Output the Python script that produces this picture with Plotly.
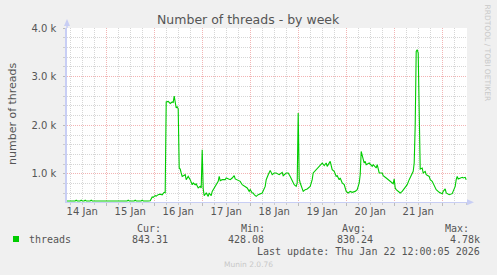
import plotly.graph_objects as go
from datetime import datetime, timedelta

# ---------------- data ----------------
# hours since 2026-01-14 00:00
hours = [4.0, 8.5, 9, 9.5, 11, 11.5, 12, 13, 13.5, 14, 16, 16.5, 17, 22.5, 23, 23.5,
         31, 31.5, 32, 34.5, 35, 35.5, 38, 38.5, 39, 41.5, 42, 42.5, 45, 46,
         47, 47.5, 48, 48.5, 49, 50, 51, 52, 52.5, 53, 53.5,
         54, 55, 56, 57, 57.5, 58, 58.5, 59, 59.5, 60,
         60.5, 61, 61.5, 62, 63.5, 64, 65, 66, 67, 67.5, 68.5, 69, 70, 71, 71.5,
         72, 72.5, 73, 74, 75, 75.5, 76.5, 77, 78, 79, 80, 80.5, 81, 82, 83.5,
         84, 85, 86, 87, 88, 88.5, 89.5, 91, 92, 93.5, 94.5, 95.5, 96, 97, 97.5,
         98, 99, 100, 101, 102, 103.5, 104, 105, 106, 107, 108, 109, 110.5, 112,
         112.5, 114, 115, 116, 117, 118, 119, 119.5, 120, 120.5, 121, 122, 122.5,
         123.5, 124.5, 126, 127, 127.5, 129, 130, 131, 132, 133, 134, 134.5, 135.5,
         136, 137, 138, 139, 139.5, 140.5, 141, 142, 143, 144, 145, 146, 147, 148.5,
         149.5, 150.5, 151, 151.5, 152, 153, 153.5, 154, 155.5, 157, 157.5, 159,
         159.5, 160.5, 162, 162.5, 164, 166, 167, 167.5, 168, 168.5, 169, 170, 171,
         172, 173.5, 174.5, 175.5, 177, 177.5, 178, 178.5, 179, 179.5, 180, 180.5,
         181, 182, 182.5, 183.5, 184, 185.5, 186, 187, 188, 189, 190.5, 192, 192.5,
         193.5, 194, 195.5, 197, 197.5, 198.5, 199, 199.5, 200, 201, 202, 202.5,
         203.5, 204]
threads = [445, 445, 462, 445, 445, 462, 445, 445, 462, 445, 445, 462, 445, 445, 460, 445,
           445, 460, 445, 445, 462, 445, 445, 462, 445, 445, 462, 445, 445, 450,
           527, 520, 540, 553, 545, 575, 585, 570, 600, 623, 615,
           2480, 2490, 2450, 2480, 2470, 2600, 2450, 2360, 2380, 2340,
           1123, 1100, 1020, 950, 985, 883, 950, 883, 780, 815, 780, 795, 712, 745, 712,
           1500, 700, 553, 609, 540, 609, 553, 642, 712, 780, 848, 950, 862, 883, 883,
           917, 897, 883, 917, 965, 897, 883, 848, 780, 745, 712, 642, 678, 609, 609,
           575, 540, 575, 590, 609, 745, 883, 985, 1074, 985, 1020, 1020, 985, 1033,
           965, 1020, 1020, 950, 848, 780, 745, 815, 2253, 900, 815, 712, 642,
           678, 692, 745, 883, 1020, 1088, 1156, 1191, 1225, 1170, 1225, 1156, 1238,
           1259, 1088, 1054, 950, 965, 883, 917, 815, 780, 642, 609, 642, 623, 642,
           678, 815, 985, 1464, 1361, 1225, 1259, 1191, 1225, 1156, 1191, 1123,
           1191, 1020, 1020, 965, 917, 848, 815, 800, 897, 712, 678, 642, 609,
           642, 712, 780, 883, 1020, 1054, 1225, 2000, 3520, 3554, 3486, 2200,
           1100, 1123, 1020, 1054, 985, 950, 883, 848, 745, 678, 623, 595, 642,
           692, 609, 575, 595, 642, 745, 883, 950, 897, 917, 931, 917,
           931, 880]
day_labels = ["14 Jan", "15 Jan", "16 Jan", "17 Jan", "18 Jan", "19 Jan", "20 Jan", "21 Jan"]
y_ticks = [1000, 2000, 3000, 4000]
y_tick_text = ["1.0 k", "2.0 k", "3.0 k", "4.0 k"]
series_name = "threads"
stat_names = ["Cur:", "Min:", "Avg:", "Max:"]
stat_values = ["843.31", "428.08", "830.24", "4.78k"]
last_update = "Last update: Thu Jan 22 12:00:05 2026"

origin = datetime(2026, 1, 14)
times = [origin + timedelta(hours=h) for h in hours]
x_range = [origin + timedelta(hours=4.4), origin + timedelta(hours=204.4)]
midnights = [origin + timedelta(days=d) for d in range(0, 9)]
noons = [origin + timedelta(days=d, hours=12) for d in range(len(day_labels))]

# ---------------- layout helpers ----------------
W, H = 497, 275
L, R, T, B = 67, 30, 28, 73
PW, PH = W - L - R, H - T - B


def px(x):
    return (x - L) / PW


def py(y):
    return (T + PH - y) / PH


GREEN = "#00CC00"
TXT = "#555555"
AXIS = "#C8CEF4"
MGRID = "#F2B4B4"
GRID = "#D6D6D6"
DASH = "1px,1px"

fig = go.Figure()
fig.add_trace(go.Scatter(x=times, y=threads, mode="lines",
                         line=dict(color=GREEN, width=1.1), showlegend=False,
                         hoverinfo="skip"))
fig.add_trace(go.Scatter(x=[noons[0]], y=[None], xaxis="x2", showlegend=False,
                         hoverinfo="skip"))

fig.update_layout(
    width=W, height=H, margin=dict(l=L, r=R, t=T, b=B),
    paper_bgcolor="#F0F0F0", plot_bgcolor="white",
    font=dict(family="DejaVu Sans", color=TXT, size=10),
    xaxis=dict(type="date", range=x_range, tickvals=midnights, showticklabels=False,
               showgrid=True, gridcolor=MGRID, griddash=DASH, gridwidth=1,
               ticks="outside", ticklen=3, tickcolor="#BBBBBB",
               minor=dict(dtick=6 * 3600 * 1000, tick0=origin, showgrid=True,
                          gridcolor=GRID, griddash=DASH, ticks="outside",
                          ticklen=2, tickcolor="#CCCCCC"),
               showline=True, linecolor=AXIS, linewidth=1, zeroline=False,
               fixedrange=True),
    xaxis2=dict(type="date", range=x_range, overlaying="x", side="bottom", anchor="y",
                tickvals=noons, ticktext=day_labels, showgrid=False, ticks="",
                ticklabelstandoff=2,
                tickfont=dict(size=10, color=TXT), zeroline=False, showline=False),
    yaxis=dict(range=[424, 4000], tickvals=y_ticks, ticktext=y_tick_text,
               showgrid=True, gridcolor=MGRID, griddash=DASH, gridwidth=1,
               ticks="outside", ticklen=2, tickcolor="#BBBBBB",
               ticklabelstandoff=5,
               minor=dict(dtick=200, tick0=0, showgrid=True, gridcolor=GRID,
                          griddash=DASH, ticks="outside", ticklen=2,
                          tickcolor="#CCCCCC"),
               showline=True, linecolor=AXIS, linewidth=1.5, zeroline=False,
               fixedrange=True),
    showlegend=False,
)

shapes = []
# axis extension + arrows
shapes.append(dict(type="line", xref="paper", yref="paper", x0=0, x1=0, y0=1, y1=py(21),
                   line=dict(color=AXIS, width=1.5)))
shapes.append(dict(type="path", xref="paper", yref="paper",
                   path=f"M {px(64)} {py(26)} L {px(70)} {py(26)} L {px(67)} {py(19)} Z",
                   fillcolor=AXIS, line=dict(width=0)))
shapes.append(dict(type="path", xref="paper", yref="paper",
                   path=f"M {px(467)} {py(199.3)} L {px(467)} {py(205.3)} L {px(474)} {py(202.3)} Z",
                   fillcolor=AXIS, line=dict(width=0)))
# legend swatch
shapes.append(dict(type="rect", xref="paper", yref="paper",
                   x0=px(13), x1=px(19), y0=py(242), y1=py(236),
                   fillcolor=GREEN, line=dict(width=0)))
fig.update_layout(shapes=shapes)

ann = []
ann.append(dict(text="Number of threads - by week", x=px(248.5), y=py(19.5),
                font=dict(size=12.5, color=TXT)))
ann.append(dict(text="number of threads", x=px(12), y=py(113), textangle=-90,
                font=dict(size=11, color=TXT)))
ann.append(dict(text="RRDTOOL / TOBI OETIKER", x=px(487.5), y=py(53), textangle=90,
                font=dict(size=7.5, color="#C8C8C8")))
ann.append(dict(text="Munin 2.0.76", x=px(248), y=py(264.5),
                font=dict(size=7.5, color="#C8C8C8")))
MONO = "DejaVu Sans Mono"
ann.append(dict(text=series_name, x=px(27), y=py(239), xanchor="left",
                font=dict(family=MONO, size=10, color=TXT)))
name_right = [163, 267, 368, 471]
val_right = [170, 266, 375, 482]
for n, v, xn, xv in zip(stat_names, stat_values, name_right, val_right):
    ann.append(dict(text=n, x=px(xn), y=py(228), xanchor="right",
                    font=dict(family=MONO, size=10, color=TXT)))
    ann.append(dict(text=v, x=px(xv), y=py(239), xanchor="right",
                    font=dict(family=MONO, size=10, color=TXT)))
ann.append(dict(text=last_update, x=px(482), y=py(251), xanchor="right",
                font=dict(family=MONO, size=10, color=TXT)))
for a in ann:
    a.setdefault("xref", "paper")
    a.setdefault("yref", "paper")
    a.setdefault("showarrow", False)
    a.setdefault("yanchor", "middle")
    a.setdefault("xanchor", "center")
fig.update_layout(annotations=ann)

fig.write_html("out.html")
